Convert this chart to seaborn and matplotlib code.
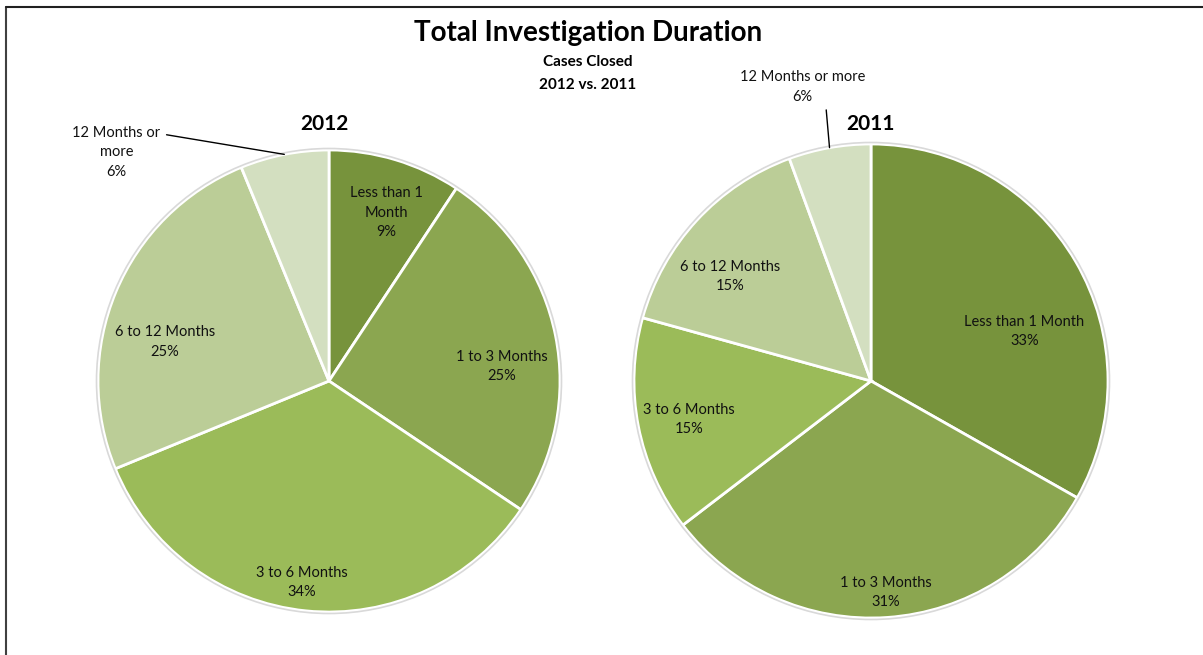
import numpy as np
import matplotlib
matplotlib.use("Agg")
import matplotlib.pyplot as plt
import seaborn as sns
from matplotlib.lines import Line2D
from matplotlib.patches import Circle

# data
categories = ['Less than 1 Month', '1 to 3 Months', '3 to 6 Months',
              '6 to 12 Months', '12 Months or more']
share_2012 = [9.3, 25.1, 34.4, 25.0, 6.2]
share_2011 = [33.2, 31.4, 14.7, 15.1, 5.6]
labels_2012 = ['Less than 1\nMonth', '1 to 3 Months', '3 to 6 Months',
               '6 to 12 Months', '12 Months or\nmore']
labels_2011 = ['Less than 1 Month', '1 to 3 Months', '3 to 6 Months',
               '6 to 12 Months', '12 Months or more']

colors = ['#77933C', '#8BA650', '#9BBB59', '#BBCD97', '#D3DFC0']

sns.set_theme(style="white")
plt.rcParams['font.family'] = ['Lato', 'DejaVu Sans']
plt.rcParams['text.color'] = 'black'

W, H = 1203, 655
fig = plt.figure(figsize=(W / 100, H / 100), dpi=100)
ax = fig.add_axes([0, 0, 1, 1])


def draw_pie(cx, cy, r, values, labels, dists, shifts, out_off, out_relpos, out_conn):
    wedges, _ = ax.pie(values, colors=colors, startangle=90, counterclock=False,
                       center=(cx, cy), radius=r,
                       wedgeprops=dict(edgecolor='white', linewidth=2))
    ax.add_patch(Circle((cx, cy), r + 1.5, fill=False, edgecolor='#d9d9d9', lw=1.2))
    for w, lab, v, d, s in zip(wedges, labels, values, dists, shifts):
        mid = np.deg2rad((w.theta1 + w.theta2) / 2)
        txt = f"{lab}\n{v:.0f}%"
        if d is None:
            ex, ey = cx + r * np.cos(mid), cy + r * np.sin(mid)
            ax.annotate(txt, xy=(ex, ey),
                        xytext=(cx + out_off[0] * r, cy + out_off[1] * r),
                        ha='center', va='center', fontsize=10.5, color='#111111',
                        linespacing=1.5,
                        arrowprops=dict(arrowstyle='-', color='black', lw=1,
                                        relpos=out_relpos, shrinkA=2, shrinkB=0,
                                        connectionstyle=out_conn))
        else:
            a = mid + np.deg2rad(s)
            ax.text(cx + d * r * np.cos(a), cy + d * r * np.sin(a), txt,
                    ha='center', va='center', fontsize=10.5, color='#111111',
                    linespacing=1.5)


draw_pie(329, 274, 231, share_2012, labels_2012,
         [0.77, 0.75, 0.88, 0.73, None], [-2, -6.6, -2, 9.3, 0],
         (-0.92, 0.99), (1.0, 0.85), 'arc3,rad=0')
draw_pie(871, 274, 237, share_2011, labels_2011,
         [0.68, 0.895, 0.785, 0.74, None], [-12.4, 0, 1, 6, 0],
         (-0.29, 1.24), (0.6, 0.25), 'angle,angleA=0,angleB=95,rad=0')

ax.set_xlim(0, W)
ax.set_ylim(0, H)
ax.set_aspect('equal')
ax.axis('off')

# titles
fig.text(588 / W, 1 - 33 / H, 'Total Investigation Duration', ha='center', va='center',
         fontsize=20, fontweight='bold', color='black')
fig.text(588 / W, 1 - 62 / H, 'Cases Closed', ha='center', va='center',
         fontsize=11, fontweight='bold', color='black')
fig.text(588 / W, 1 - 85 / H, '2012 vs. 2011', ha='center', va='center',
         fontsize=11, fontweight='bold', color='black')
fig.text(324 / W, 1 - 124 / H, '2012', ha='center', va='center',
         fontsize=15, fontweight='bold', color='black')
fig.text(870 / W, 1 - 124 / H, '2011', ha='center', va='center',
         fontsize=15, fontweight='bold', color='black')

# chart frame (left and top edges visible)
fig.add_artist(Line2D([6 / W, 6 / W], [0, 1 - 7 / H], color='#404040', lw=1.5))
fig.add_artist(Line2D([6 / W, 1], [1 - 7 / H, 1 - 7 / H], color='#202020', lw=1.5))

fig.savefig('out.png', dpi=100)
